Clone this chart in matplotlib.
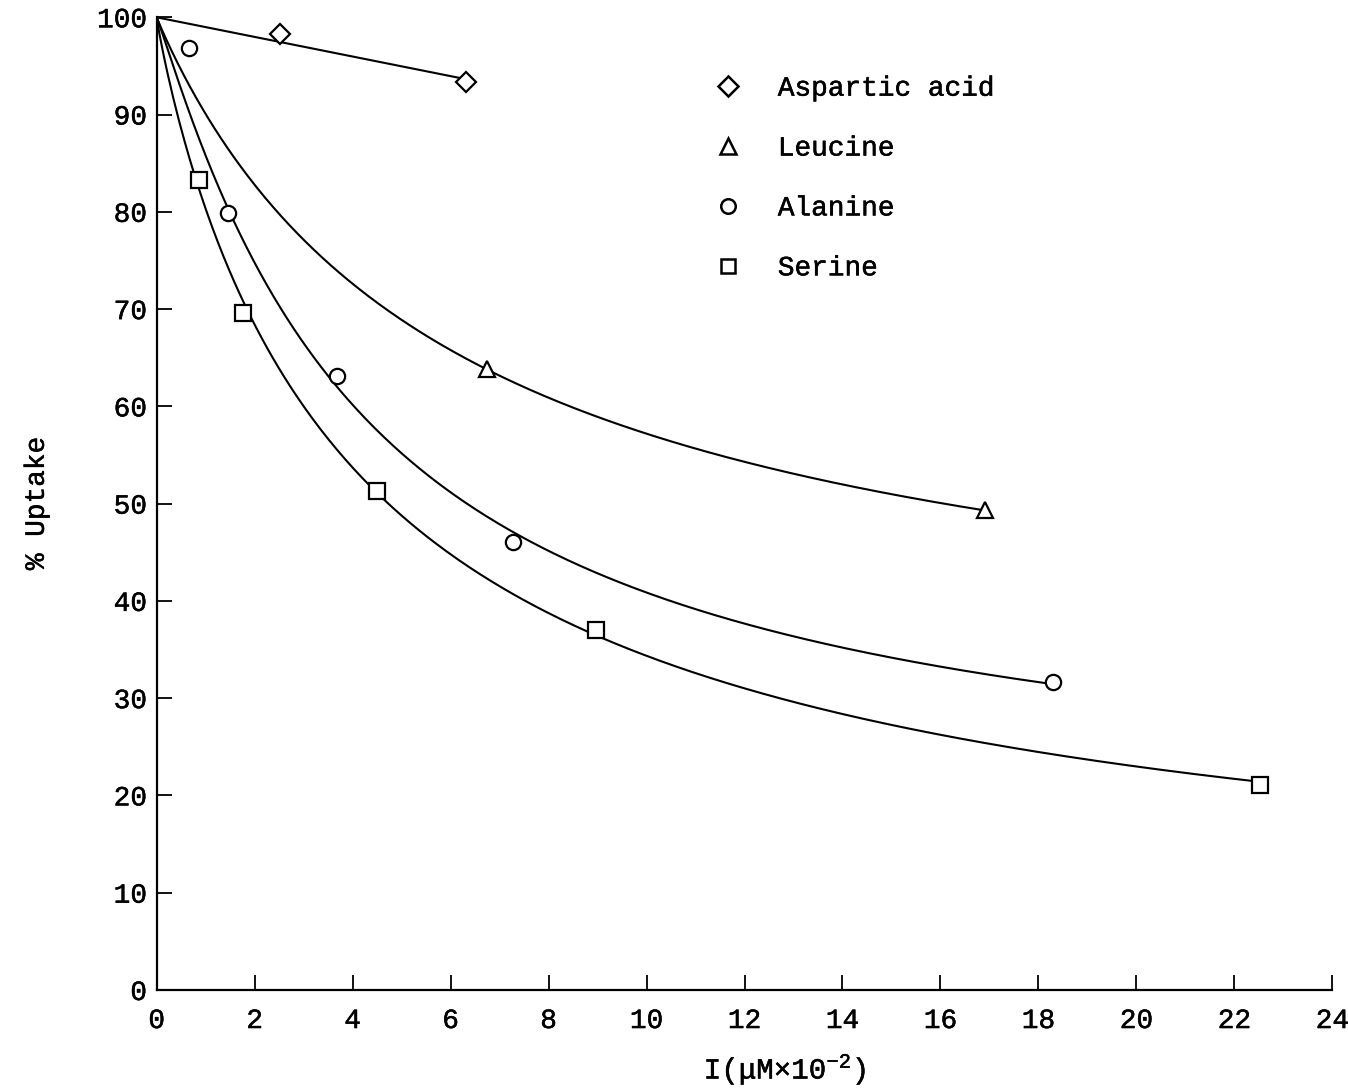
import numpy as np
import matplotlib
matplotlib.use("Agg")
import matplotlib.pyplot as plt
import matplotlib.patheffects as pe
from matplotlib.lines import Line2D

plt.rcParams['font.family'] = ['Liberation Mono', 'DejaVu Sans']
plt.rcParams['mathtext.fontset'] = 'custom'
plt.rcParams['mathtext.rm'] = 'Liberation Mono'
plt.rcParams['mathtext.it'] = 'Liberation Mono'

# values: inhibitor conc. (uM x 10^-2) vs % uptake
asp_x = [2.51, 6.32]
asp_y = [98.3, 93.3]

leu_x = [6.74, 16.91]
leu_y = [63.8, 49.3]

ala_x = [0.66, 1.45, 3.69, 7.28, 18.30]
ala_y = [96.8, 79.9, 63.1, 46.1, 31.7]
ala_use = [False, True, True, True, True]   # first point is off the drawn curve

ser_x = [0.87, 1.76, 4.49, 8.97, 22.53]
ser_y = [83.3, 69.6, 51.3, 37.0, 21.1]

labels = ['Aspartic acid', 'Leucine', 'Alanine', 'Serine']
markers = ['D', '^', 'o', 's']
msizes = [10.5, 12, 11, 11]

x_ticks = np.arange(0, 25, 2)
y_ticks = np.arange(0, 101, 10)

bold = [pe.withStroke(linewidth=0.35, foreground='black')]


def hill_fit(x, y):
    # least squares fit of y = 100 - I*x^n/(K^n + x^n)
    x = np.asarray(x, float)
    inh = 100 - np.asarray(y, float)
    best = None
    for n in np.linspace(0.6, 1.4, 81):
        for K in np.linspace(0.5, 30, 591):
            f = x**n / (K**n + x**n)
            I = (f @ inh) / (f @ f)
            err = ((I * f - inh)**2).sum() + 1e-3 * (n - 1)**2
            if best is None or err < best[0]:
                best = (err, I, K, n)
    _, I, K, n = best
    return lambda t: 100 - I * t**n / (K**n + t**n)


fig = plt.figure(figsize=(13.48, 10.88), dpi=100)
ax = fig.add_axes([0.1162, 0.0901, 0.8722, 0.894])

# aspartic acid: straight line from (0,100)
ax_ = np.array(asp_x)
slope = (ax_ * (np.array(asp_y) - 100)).sum() / (ax_**2).sum()
t = np.linspace(0, asp_x[-1], 50)
ax.plot(t, 100 + slope * t, color='black', lw=1.5, zorder=2)

curves = [(leu_x, leu_y, leu_x, leu_y),
          (ala_x, ala_y, [a for a, u in zip(ala_x, ala_use) if u],
           [b for b, u in zip(ala_y, ala_use) if u]),
          (ser_x, ser_y, ser_x, ser_y)]
for xs, ys, fx, fy in curves:
    f = hill_fit(fx, fy)
    t = np.linspace(0, xs[-1], 400)
    ax.plot(t, f(t), color='black', lw=1.5, zorder=2)

all_x = [asp_x, leu_x, ala_x, ser_x]
all_y = [asp_y, leu_y, ala_y, ser_y]
for xs, ys, m, ms in zip(all_x, all_y, markers, msizes):
    ax.plot(xs, ys, linestyle='none', marker=m, markersize=ms,
            markerfacecolor='white', markeredgecolor='black',
            markeredgewidth=1.6, zorder=3, clip_on=False)

ax.set_xlim(0, 24)
ax.set_ylim(0, 100)
ax.set_xticks(x_ticks)
ax.set_yticks(y_ticks)
for s in ['top', 'right']:
    ax.spines[s].set_visible(False)
for s in ['left', 'bottom']:
    ax.spines[s].set_linewidth(1.6)
ax.tick_params(axis='x', direction='in', length=11, width=1.3, pad=13,
               labelsize=20)
ax.tick_params(axis='y', direction='in', length=11, width=1.3, pad=7,
               labelsize=20)
for lbl in ax.get_xticklabels() + ax.get_yticklabels():
    lbl.set_path_effects(bold)

ylab = ax.set_ylabel('% Uptake', fontsize=20, labelpad=34)
ylab.set_path_effects(bold)
fig.text(785 / 1348, 1 - 1069 / 1088, 'I(\u03bcM\u00d710$^{-2}$)',
         fontsize=21, ha='center', va='center', path_effects=bold)

handles = [Line2D([], [], linestyle='none', marker=m, markersize=ms * 0.95,
                  markerfacecolor='white', markeredgecolor='black',
                  markeredgewidth=1.8) for m, ms in zip(markers, msizes)]
leg = ax.legend(handles, labels, loc='upper left',
                bbox_to_anchor=(0.474, 0.94), frameon=False, fontsize=20,
                handlelength=1.0, handletextpad=1.3, labelspacing=1.22,
                borderpad=0, borderaxespad=0)
for txt in leg.get_texts():
    txt.set_path_effects(bold)

fig.savefig('out.png', dpi=100)
